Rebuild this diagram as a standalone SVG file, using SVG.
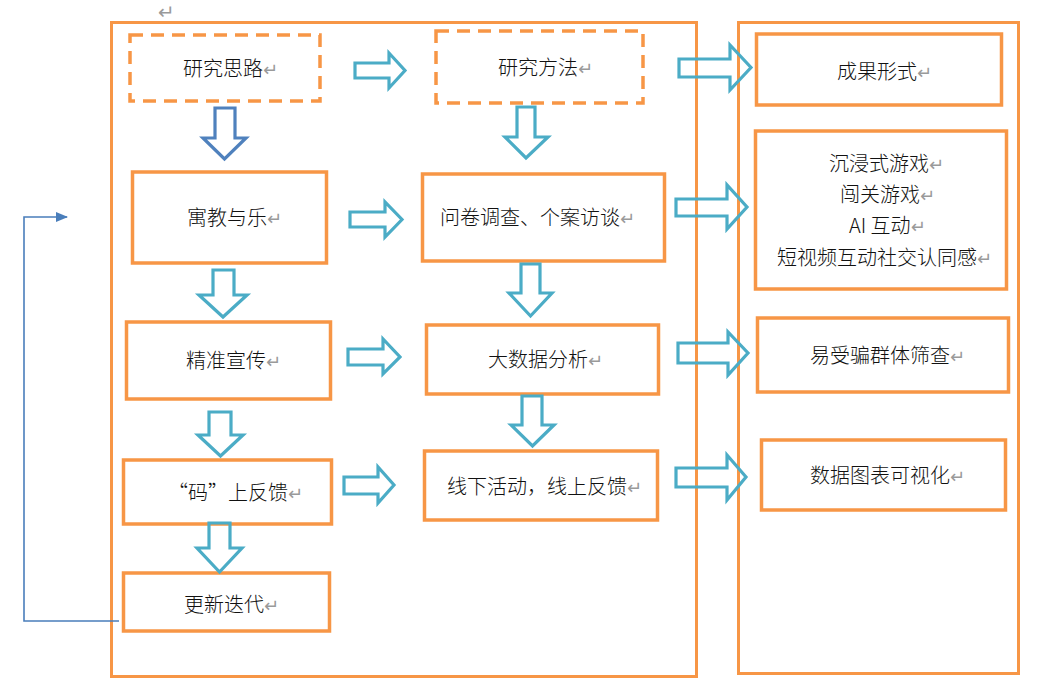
<svg xmlns="http://www.w3.org/2000/svg" width="1041" height="689" viewBox="0 0 1041 689">
<style>
.frame{fill:none;stroke:#F79646;stroke-width:3}
.box{fill:none;stroke:#F79646;stroke-width:3.5}
.dash{fill:none;stroke:#F79646;stroke-width:3.5;stroke-dasharray:13 8}
.arr{fill:none;stroke:#4BACC6;stroke-width:3.2;stroke-linejoin:miter}
.arrd{fill:none;stroke:#4F81BD;stroke-width:3.2;stroke-linejoin:miter}
text{font-family:"Noto Sans CJK SC","Liberation Sans",sans-serif;font-size:20px;font-weight:300;fill:#111111}
.pm{font-family:"DejaVu Sans",sans-serif;font-size:18px;font-weight:400;fill:#9a9a9a}
</style>
<defs>
<marker id="ah" markerWidth="12" markerHeight="10" refX="11" refY="5" orient="auto" markerUnits="userSpaceOnUse">
<path d="M0,0 L12,5 L0,10 Z" fill="#4A7EBB"/>
</marker>
</defs>
<rect width="1041" height="689" fill="#ffffff"/>
<text x="158" y="19" class="pm" style="font-size:20px">↵</text>
<g id="frame-left"><rect class="frame" x="111.5" y="22.5" width="585" height="654"/></g>
<g id="frame-right"><rect class="frame" x="738.5" y="22.5" width="280" height="651"/></g>

<g id="n-silu"><rect class="dash" x="130" y="35" width="190" height="66"/><text x="183" y="75.5">研究思路<tspan class="pm">↵</tspan></text></g>
<g id="n-fangfa"><rect class="dash" x="436" y="31" width="207" height="72"/><text x="498" y="74.5">研究方法<tspan class="pm">↵</tspan></text></g>
<g id="n-chengguo"><rect class="box" x="756.5" y="34" width="245" height="71"/><text x="837" y="78.5">成果形式<tspan class="pm">↵</tspan></text></g>
<g id="n-yujiao"><rect class="box" x="132.5" y="172" width="194" height="91"/><text x="187" y="224.5">寓教与乐<tspan class="pm">↵</tspan></text></g>
<g id="n-wenjuan"><rect class="box" x="422.5" y="174" width="242" height="87"/><text x="440" y="224.5">问卷调查、个案访谈<tspan class="pm">↵</tspan></text></g>
<g id="n-chenjin"><rect class="box" x="755.5" y="131" width="251" height="158"/>
<text x="829" y="170.5">沉浸式游戏<tspan class="pm">↵</tspan></text>
<text x="840" y="201.5">闯关游戏<tspan class="pm">↵</tspan></text>
<text x="849" y="233">AI 互动<tspan class="pm">↵</tspan></text>
<text x="777" y="264.5">短视频互动社交认同感<tspan class="pm">↵</tspan></text></g>
<g id="n-jingzhun"><rect class="box" x="126.5" y="322" width="204" height="77"/><text x="186" y="367.5">精准宣传<tspan class="pm">↵</tspan></text></g>
<g id="n-dashuju"><rect class="box" x="426.5" y="325" width="232" height="69"/><text x="488" y="366.5">大数据分析<tspan class="pm">↵</tspan></text></g>
<g id="n-yishou"><rect class="box" x="757.5" y="318" width="251" height="74"/><text x="810" y="362.5">易受骗群体筛查<tspan class="pm">↵</tspan></text></g>
<g id="n-ma"><rect class="box" x="123.5" y="460" width="208" height="64"/><text x="168" y="499.5">“码”上反馈<tspan class="pm">↵</tspan></text></g>
<g id="n-xianxia"><rect class="box" x="424.5" y="451" width="233" height="69"/><text x="447" y="493.5">线下活动，线上反馈<tspan class="pm">↵</tspan></text></g>
<g id="n-shuju"><rect class="box" x="761.5" y="440" width="244" height="70"/><text x="810" y="482.5">数据图表可视化<tspan class="pm">↵</tspan></text></g>
<g id="n-gengxin"><rect class="box" x="123.5" y="573" width="206" height="58"/><text x="184" y="611.5">更新迭代<tspan class="pm">↵</tspan></text></g>

<g id="connectors">
<path class="arr" d="M355,63 H389 V53 L405,70.5 L389,88 V78 H355 Z"/>
<path class="arr" d="M679,59 H730 V45 L751,67.5 L730,90 V77 H679 Z"/>
<path class="arr" d="M350,212 H385 V202 L402,219.5 L385,237 V227 H350 Z"/>
<path class="arr" d="M676,199 H727 V185 L747,207 L727,229 V216 H676 Z"/>
<path class="arr" d="M348,349 H383 V339 L400,357 L383,374 V365 H348 Z"/>
<path class="arr" d="M678,343 H728 V332 L748,353 L728,375 V363 H678 Z"/>
<path class="arr" d="M344,477 H378 V467 L394,485 L378,503 V494 H344 Z"/>
<path class="arr" d="M676,468 H727 V455 L746,477 L727,500 V487 H676 Z"/>
<path class="arrd" d="M215,108 H235 V138 H246 L224.5,159 L203,138 H215 Z"/>
<path class="arr" d="M517,107 H535 V137 H548 L526,158 L505,137 H517 Z"/>
<path class="arr" d="M213,270 H234 V295 H247 L223,317 L199,295 H213 Z"/>
<path class="arr" d="M521,264 H540 V293 H552 L530.5,316 L509,293 H521 Z"/>
<path class="arr" d="M209,412 H231 V435 H243 L220.5,456 L198,435 H209 Z"/>
<path class="arr" d="M522,396 H542 V425 H554 L532.5,446 L511,425 H522 Z"/>
<path class="arr" d="M209,523 H230 V548 H242 L219.5,572 L197,548 H209 Z"/>
<polyline points="119,621 24,621 24,217 67,217" fill="none" stroke="#4A7EBB" stroke-width="1.6" marker-end="url(#ah)"/>
</g>
</svg>
